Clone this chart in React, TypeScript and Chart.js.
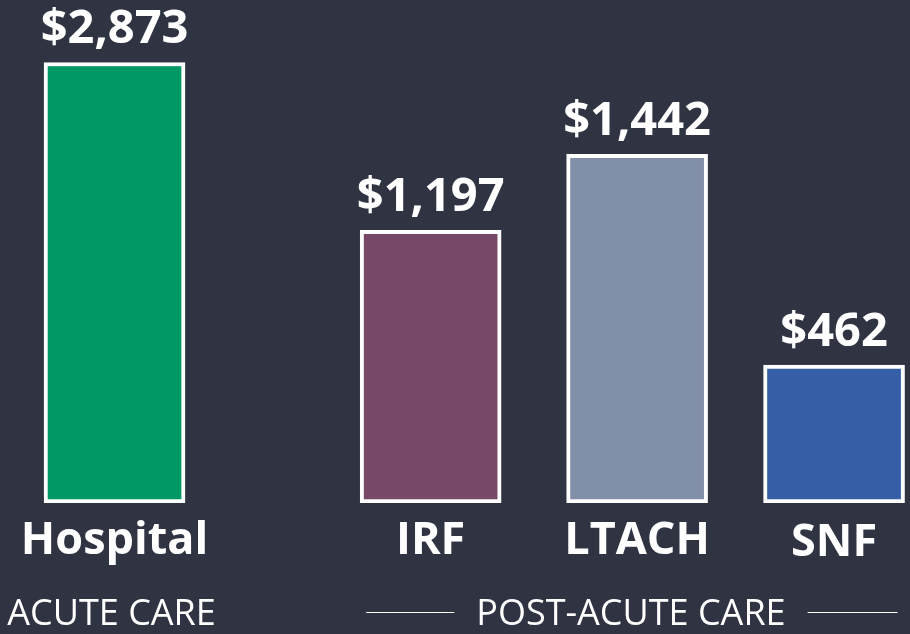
import React, { useEffect, useRef } from "react";
import { Chart, registerables } from "chart.js";

Chart.register(...registerables);

// ---- data ----
const categories = ["Hospital", "IRF", "LTACH", "SNF"];
const costs = [2873, 1197, 1442, 462]; // value labels ($)
const barHeights = [2873, 1778, 2274, 899]; // drawn bar heights (illustrative, not to scale)
const slots = [0, 1.565, 2.587, 3.562]; // relative horizontal slot of each bar
const groupNames = ["ACUTE CARE", "POST-ACUTE CARE"];
const groupOf = [0, 1, 1, 1];
const barColors = ["#009864", "#774868", "#828fa8", "#355ea6"];

const BG = "#2f3342";
const FONT = "'Open Sans', 'Noto Sans', sans-serif";

const labelPlugin = {
  id: "labelPlugin",
  beforeDraw(chart: any) {
    const { ctx, width, height } = chart;
    ctx.save();
    ctx.fillStyle = BG;
    ctx.fillRect(0, 0, width, height);
    ctx.restore();
  },
  afterDatasetsDraw(chart: any) {
    const { ctx, chartArea } = chart;
    const meta = chart.getDatasetMeta(0);
    ctx.save();
    ctx.fillStyle = "#ffffff";
    ctx.textAlign = "center";
    ctx.textBaseline = "alphabetic";
    meta.data.forEach((bar: any, i: number) => {
      ctx.font = `bold 47px ${FONT}`;
      ctx.fillText("$" + costs[i].toLocaleString("en-US"), bar.x, bar.y - 19);
      ctx.font = `bold 45px ${FONT}`;
      ctx.fillText(categories[i], bar.x, chartArea.bottom + 51 + (i === 3 ? 2 : 0));
    });
    // group labels
    ctx.font = `36px ${FONT}`;
    const groupBaseline = chartArea.bottom + 122;
    groupNames.forEach((name, g) => {
      const bars = meta.data.filter((_: any, i: number) => groupOf[i] === g);
      if (!bars.length) return;
      const left = Math.min(...bars.map((b: any) => b.x - b.width / 2));
      const right = Math.max(...bars.map((b: any) => b.x + b.width / 2));
      const cx = bars.reduce((s: number, b: any) => s + b.x, 0) / bars.length - 3;
      ctx.fillStyle = "#ffffff";
      ctx.fillText(name, cx, groupBaseline);
      if (bars.length > 1) {
        const tw = ctx.measureText(name).width;
        ctx.strokeStyle = "#ffffff";
        ctx.lineWidth = 1;
        const ly = groupBaseline - 12.5;
        ctx.beginPath();
        ctx.moveTo(left + 6, ly);
        ctx.lineTo(cx - tw / 2 - 22, ly);
        ctx.moveTo(cx + tw / 2 + 22, ly);
        ctx.lineTo(right - 7, ly);
        ctx.stroke();
      }
    });
    ctx.restore();
  },
};

export default function App() {
  const ref = useRef<HTMLCanvasElement | null>(null);
  useEffect(() => {
    if (!ref.current) return;
    const chart = new Chart(ref.current, {
      type: "bar",
      data: {
        datasets: [
          {
            data: slots.map((s, i) => ({ x: s, y: barHeights[i] })),
            backgroundColor: barColors,
            borderColor: "#ffffff",
            borderWidth: 4,
            borderSkipped: false,
            barThickness: 141,
          } as any,
        ],
      },
      options: {
        animation: false,
        responsive: false,
        maintainAspectRatio: false,
        layout: { padding: { top: 43, bottom: 131, left: 0, right: 0 } },
        plugins: { legend: { display: false }, tooltip: { enabled: false } },
        scales: {
          x: { type: "linear", display: false, min: -0.567, max: 3.938, offset: false },
          y: { display: false, min: 0, max: 3000 },
        },
      },
      plugins: [labelPlugin],
    });
    return () => chart.destroy();
  }, []);
  return (
    <div style={{ position: "absolute", left: 0, top: 0, width: 910, height: 634, background: BG }}>
      <canvas ref={ref} width={910} height={634} />
    </div>
  );
}
